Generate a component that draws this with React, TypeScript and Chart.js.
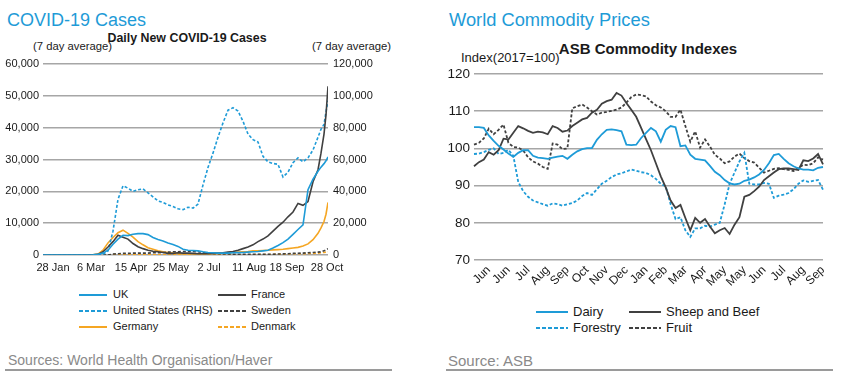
import React, { useEffect, useRef } from 'react';
import { Chart, registerables } from 'chart.js';

Chart.register(...registerables);

const FONT = '"Liberation Sans", Arial, Helvetica, sans-serif';
const BLUE = '#1e9bd7';
const DARK = '#404040';
const ORANGE = '#f5a623';
const GRID = '#a6a6a6';
const TEXT = '#1a1a1a';

// ---------- Left chart: Daily New COVID-19 Cases (7 day average) ----------
// x = days after 28 Jan
const covidDays = [
  -10, -5, 0, 5, 10, 15, 20, 25, 30, 35,
  40, 45, 50, 55, 60, 65, 70, 75, 80, 85,
  90, 95, 100, 105, 110, 115, 120, 125, 130, 135,
  140, 145, 150, 155, 160, 165, 170, 175, 180, 185,
  190, 195, 200, 205, 210, 215, 220, 225, 230, 235,
  240, 245, 250, 255, 260, 265, 268, 271, 273, 275,
];
const covidTickDays = [0, 38, 78, 118, 156, 196, 234, 274];
const covidTickLabels = ['28 Jan', '6 Mar', '15 Apr', '25 May', '2 Jul', '11 Aug', '18 Sep', '28 Oct'];

// thousands of cases
const ukK = [
  0, 0, 0, 0, 0, 0, 0, 0, 0, 0,
  0.05, 0.2, 0.6, 1.5, 3.4, 5.0, 6.2, 6.1, 6.5, 6.7,
  6.7, 6.4, 5.5, 4.9, 4.4, 3.8, 3.3, 2.7, 1.8, 1.5,
  1.4, 1.3, 1.0, 0.8, 0.7, 0.6, 0.6, 0.6, 0.7, 0.75,
  0.8, 0.9, 1.0, 1.1, 1.3, 1.5, 2.2, 3.0, 3.9, 5.0,
  6.5, 8.0, 9.5, 20.5, 23.8, 26.3, 27.6, 28.7, 29.6, 30.8,
];
const franceK = [
  0, 0, 0, 0, 0, 0, 0, 0, 0, 0,
  0.05, 0.2, 1.0, 2.5, 4.2, 6.2, 5.6, 5.0, 3.6, 2.6,
  2.0, 1.5, 1.2, 1.0, 0.8, 0.5, 0.5, 0.7, 0.6, 0.6,
  0.5, 0.4, 0.4, 0.4, 0.5, 0.6, 0.7, 0.9, 1.1, 1.5,
  2.0, 2.5, 3.2, 4.2, 5.0, 6.0, 7.5, 9.0, 10.3, 12.0,
  13.5, 16.2, 15.6, 16.8, 23.0, 26.8, 32.0, 38.0, 44.0, 53.0,
];
const usK = [
  0, 0, 0, 0, 0, 0, 0, 0, 0, 0,
  0, 0, 0.5, 2.5, 15, 35, 43.5, 42, 40, 41,
  41.5, 39, 36.5, 34, 33, 31.5, 30.5, 29, 28.5, 30,
  29.5, 32, 44, 55, 64, 74, 83, 91, 92.5, 90.5,
  84, 76, 72.5, 71, 62, 58.5, 57.5, 57, 49, 52,
  58, 61, 58.5, 61, 66, 74, 79, 82, 90, 97,
];
const swedenK = [
  0, 0, 0, 0, 0, 0, 0, 0, 0, 0,
  0, 0, 0, 0, 0.3, 0.4, 0.5, 0.5, 0.6, 0.6,
  0.6, 0.6, 0.7, 0.7, 0.8, 0.9, 1.0, 1.0, 1.1, 1.1,
  1.1, 1.0, 0.8, 0.6, 0.5, 0.4, 0.3, 0.3, 0.25, 0.25,
  0.25, 0.25, 0.25, 0.2, 0.2, 0.25, 0.25, 0.3, 0.35, 0.4,
  0.5, 0.55, 0.6, 0.7, 0.8, 0.9, 1.0, 1.3, 1.6, 2.0,
];
const germanyK = [
  0, 0, 0, 0, 0, 0, 0, 0, 0, 0,
  0.05, 0.3, 1.5, 3.8, 5.5, 7.0, 7.8, 6.8, 5.6, 4.2,
  3.2, 2.3, 1.8, 1.3, 1.0, 0.8, 0.6, 0.5, 0.4, 0.4,
  0.4, 0.4, 0.4, 0.5, 0.5, 0.5, 0.6, 0.7, 0.8, 0.9,
  1.0, 1.1, 1.3, 1.3, 1.4, 1.5, 1.6, 1.7, 1.8, 2.0,
  2.2, 2.4, 2.8, 3.5, 4.8, 6.8, 8.5, 10.5, 12.8, 16.5,
];
const denmarkK = [
  0, 0, 0, 0, 0, 0, 0, 0, 0, 0,
  0, 0, 0, 0, 0.15, 0.2, 0.25, 0.25, 0.2, 0.2,
  0.15, 0.12, 0.1, 0.08, 0.06, 0.05, 0.05, 0.04, 0.04, 0.04,
  0.04, 0.04, 0.04, 0.05, 0.05, 0.05, 0.06, 0.07, 0.08, 0.1,
  0.1, 0.1, 0.1, 0.12, 0.13, 0.15, 0.2, 0.25, 0.3, 0.35,
  0.4, 0.4, 0.4, 0.45, 0.5, 0.6, 0.7, 0.8, 0.9, 1.0,
];

// ---------- Right chart: ASB Commodity Indexes (weekly, 2017=100) ----------
const monthLabels = ['Jun', 'Jun', 'Jul', 'Aug', 'Sep', 'Oct', 'Nov', 'Dec', 'Jan', 'Feb', 'Mar', 'Apr', 'May', 'May', 'Jun', 'Jul', 'Aug', 'Sep'];

const dairy = [
  105.7, 105.7, 105.5, 103.5, 102, 100.7, 99.7, 98.6, 97.7, 98.8,
  99.5, 99.5, 98, 97.5, 97.4, 97.2, 97.5, 97.8, 98, 97.2,
  98.3, 99.2, 99.8, 100.1, 100.1, 102.3, 103.8, 105, 105.1, 104.9,
  104.6, 101, 100.9, 101, 102.8, 104.2, 105.5, 104.6, 101.8, 105,
  106, 105.7, 100.6, 100.8, 98.3, 97.2, 97, 96.8, 95.3, 93.7,
  92.8, 91.5, 90.6, 90.3, 90.5, 91.3, 91.6, 92.2, 93, 94.2,
  96, 98.2, 98.5, 97.2, 96, 95.2, 94.6, 94.3, 94.3, 94.1,
  94.8, 95,
];
const sheepBeef = [
  95.2, 96.3, 97, 99, 98.3, 99.5, 102.6, 102.4, 104.2, 106,
  105.4, 104.7, 104.2, 104.5, 104.3, 103.8, 106, 105.5, 104.5, 104.8,
  106, 106.9, 107.8, 108.2, 109.6, 110.4, 112, 112.7, 113.1, 114.9,
  114.2, 112.2, 110.4, 108.5, 105.5, 102.5, 99.5, 96, 92.5, 89.5,
  86, 84, 84.8, 81.3, 78, 81.3, 80, 81, 79, 77.2,
  78, 78.6, 77, 79.5, 81.5, 87, 87.5, 88.5, 89.7, 91.5,
  92.5, 93.5, 94.4, 94.6, 94.6, 94.4, 94.2, 96.8, 96.6, 97.3,
  98.5, 95.7,
];
const forestry = [
  98.5, 98.6, 99, 99.6, 100, 98.5, 98.8, 99.6, 98, 91,
  88.5, 87, 86, 85.5, 85, 84.6, 85.2, 85, 84.6, 85,
  85.3, 86, 87.2, 88, 87.5, 89, 90.5, 91.3, 92.3, 93,
  93.3, 93.8, 94.3, 94, 93.6, 93.4, 92.8, 91.8, 90.5, 89.8,
  85, 81, 81.5, 78, 76.2, 78.5, 78.5, 79.2, 79, 79.5,
  80, 85, 90.5, 93.5, 96.5, 98.8, 90.5, 90.3, 90.3, 90.7,
  90.5, 86.7, 87.3, 87.6, 88, 89, 90.5, 91.4, 91, 91.3,
  91.5, 88.9,
];
const fruit = [
  101, 101.5, 102.7, 105.3, 103.8, 105, 106.4, 101.5, 100.4, 100.2,
  99.5, 97.6, 96.5, 95.9, 95, 94.5, 101.3, 101, 99.8, 100,
  110.8, 111.3, 111.8, 111, 110, 109.1, 109.6, 109.8, 110.1, 110.4,
  111, 112.3, 113.8, 114.5, 114.3, 114, 112.6, 111.6, 111, 110,
  108.5, 108.5, 110.4, 106, 101.8, 104.6, 100.2, 102.4, 100.5, 98.3,
  97.3, 96, 96.5, 97.8, 98.6, 97.4, 96.6, 96.2, 94.8, 93.5,
  94, 94.5, 94.7, 94.4, 94.2, 93.9, 94.8, 95.6, 95.5, 96,
  97.6, 97,
];

const DASH = [3, 2];

function pts(vals: number[]) {
  return covidDays.map((d, i) => ({ x: d, y: vals[i] * 1000 }));
}
function fmtThousands(v: any) {
  return Number(v).toLocaleString('en-US');
}

function LegendItem(props: { x: number; y: number; w: number; textX: number; color: string; dashed?: boolean; label: string; size: number }) {
  const { x, y, w, textX, color, dashed, label, size } = props;
  return (
    <>
      <svg style={{ position: 'absolute', left: x, top: y - 2 }} width={w} height={4}>
        <line x1={0} y1={2} x2={w} y2={2} stroke={color} strokeWidth={2} strokeDasharray={dashed ? '4 2' : undefined} />
      </svg>
      <div style={{ position: 'absolute', left: textX, top: y - size / 2 - 0.5, fontSize: size, lineHeight: size + 'px', whiteSpace: 'nowrap', color: TEXT }}>
        {label}
      </div>
    </>
  );
}

function Txt(props: { x: number; y: number; size: number; children: any; bold?: boolean; color?: string; width?: number; center?: boolean }) {
  const { x, y, size, children, bold, color, width, center } = props;
  return (
    <div
      style={{
        position: 'absolute',
        left: x,
        top: y - size / 2,
        fontSize: size,
        lineHeight: size + 'px',
        fontWeight: bold ? 'bold' : 'normal',
        color: color || TEXT,
        whiteSpace: 'nowrap',
        width: width,
        textAlign: center ? 'center' : 'left',
      }}
    >
      {children}
    </div>
  );
}

export default function App() {
  const leftRef = useRef<HTMLCanvasElement | null>(null);
  const rightRef = useRef<HTMLCanvasElement | null>(null);

  useEffect(() => {
    Chart.defaults.font.family = FONT;
    const tickFont = { family: FONT, size: 11 };

    const left = new Chart(leftRef.current as HTMLCanvasElement, {
      type: 'line',
      data: {
        datasets: [
          { label: 'UK', data: pts(ukK), borderColor: BLUE, borderWidth: 1.6, yAxisID: 'y' },
          { label: 'France', data: pts(franceK), borderColor: DARK, borderWidth: 1.6, yAxisID: 'y' },
          { label: 'United States (RHS)', data: pts(usK), borderColor: BLUE, borderWidth: 1.6, borderDash: DASH, yAxisID: 'y1' },
          { label: 'Sweden', data: pts(swedenK), borderColor: DARK, borderWidth: 1.6, borderDash: DASH, yAxisID: 'y' },
          { label: 'Germany', data: pts(germanyK), borderColor: ORANGE, borderWidth: 1.6, yAxisID: 'y' },
          { label: 'Denmark', data: pts(denmarkK), borderColor: ORANGE, borderWidth: 1.6, borderDash: DASH, yAxisID: 'y' },
        ],
      },
      options: {
        responsive: false,
        animation: false,
        devicePixelRatio: 1,
        layout: { padding: { top: 14, left: 0, right: 0, bottom: 0 } },
        elements: { point: { radius: 0 }, line: { tension: 0 } },
        plugins: { legend: { display: false }, tooltip: { enabled: false } },
        scales: {
          x: {
            type: 'linear',
            min: -10,
            max: 275,
            grid: { display: false, drawTicks: false },
            border: { display: false },
            afterBuildTicks: (s: any) => {
              s.ticks = covidTickDays.map((v) => ({ value: v }));
            },
            afterFit: (s: any) => {
              s.height = 20;
            },
            ticks: {
              autoSkip: false,
              maxRotation: 0,
              minRotation: 0,
              padding: 6,
              color: TEXT,
              font: tickFont,
              callback: (_v: any, i: number) => covidTickLabels[i],
            },
          },
          y: {
            position: 'left',
            min: 0,
            max: 60000,
            grid: { color: GRID, lineWidth: 1.5, drawTicks: false },
            border: { display: false },
            afterFit: (s: any) => {
              s.width = 43;
            },
            ticks: { stepSize: 10000, padding: 4, color: TEXT, font: tickFont, callback: fmtThousands },
          },
          y1: {
            position: 'right',
            min: 0,
            max: 120000,
            grid: { display: false, drawTicks: false },
            border: { display: false },
            afterFit: (s: any) => {
              s.width = 72;
            },
            ticks: { stepSize: 20000, padding: 5, color: TEXT, font: tickFont, callback: fmtThousands },
          },
        },
      } as any,
    });

    const weekLabels = dairy.map((_v, i) => (i % 4 === 3 ? monthLabels[(i - 3) / 4] : ''));

    const right = new Chart(rightRef.current as HTMLCanvasElement, {
      type: 'line',
      data: {
        labels: weekLabels,
        datasets: [
          { label: 'Dairy', data: dairy, borderColor: BLUE, borderWidth: 1.8 },
          { label: 'Sheep and Beef', data: sheepBeef, borderColor: DARK, borderWidth: 1.8 },
          { label: 'Forestry', data: forestry, borderColor: BLUE, borderWidth: 1.8, borderDash: DASH },
          { label: 'Fruit', data: fruit, borderColor: DARK, borderWidth: 1.8, borderDash: DASH },
        ],
      },
      options: {
        responsive: false,
        animation: false,
        devicePixelRatio: 1,
        layout: { padding: { top: 14, left: 0, right: 18, bottom: 0 } },
        elements: { point: { radius: 0 }, line: { tension: 0 } },
        plugins: { legend: { display: false }, tooltip: { enabled: false } },
        scales: {
          x: {
            type: 'category',
            offset: false,
            grid: { display: false, drawTicks: false },
            border: { display: false },
            afterFit: (s: any) => {
              s.height = 35;
            },
            ticks: {
              autoSkip: false,
              minRotation: 45,
              maxRotation: 45,
              padding: 3,
              color: TEXT,
              font: { family: FONT, size: 12 },
            },
          },
          y: {
            min: 70,
            max: 120,
            grid: { color: GRID, lineWidth: 1.5, drawTicks: false },
            border: { display: false },
            afterFit: (s: any) => {
              s.width = 44;
            },
            ticks: { stepSize: 10, padding: 4, color: TEXT, font: { family: FONT, size: 13.5 } },
          },
        },
      } as any,
    });

    return () => {
      left.destroy();
      right.destroy();
    };
  }, []);

  return (
    <div style={{ position: 'absolute', left: 0, top: 0, width: 841, height: 380, background: '#ffffff', fontFamily: FONT, overflow: 'hidden' }}>
      {/* Left panel */}
      <Txt x={7} y={19.5} size={18} color={BLUE}>COVID-19 Cases</Txt>
      <Txt x={87} y={38} size={12.4} bold width={200} center>Daily New COVID-19 Cases</Txt>
      <Txt x={33} y={47} size={11.3}>(7 day average)</Txt>
      <Txt x={312} y={47} size={11.3}>(7 day average)</Txt>
      <canvas ref={leftRef} width={400} height={225} style={{ position: 'absolute', left: 0, top: 50 }} />

      <LegendItem x={79} y={295} w={28} textX={113} color={BLUE} label="UK" size={11} />
      <LegendItem x={218} y={295} w={28} textX={251} color={DARK} label="France" size={11} />
      <LegendItem x={79} y={311} w={28} textX={113} color={BLUE} dashed label="United States (RHS)" size={11} />
      <LegendItem x={218} y={311} w={28} textX={251} color={DARK} dashed label="Sweden" size={11} />
      <LegendItem x={79} y={327} w={28} textX={113} color={ORANGE} label="Germany" size={11} />
      <LegendItem x={218} y={327} w={28} textX={251} color={ORANGE} dashed label="Denmark" size={11} />

      <Txt x={8} y={360} size={14} color="#8a8a8a">Sources: World Health Organisation/Haver</Txt>
      <div style={{ position: 'absolute', left: 5, top: 369, width: 387, height: 2, background: '#9a9a9a' }} />

      {/* Right panel */}
      <Txt x={449} y={19.7} size={18.3} color={BLUE}>World Commodity Prices</Txt>
      <Txt x={548} y={48.5} size={15} bold width={200} center>ASB Commodity Indexes</Txt>
      <Txt x={461} y={57} size={13}>Index(2017=100)</Txt>
      <canvas ref={rightRef} width={411} height={235} style={{ position: 'absolute', left: 430, top: 60 }} />

      <LegendItem x={536} y={311.5} w={32} textX={573} color={BLUE} label="Dairy" size={13} />
      <LegendItem x={629} y={311.5} w={32} textX={666} color={DARK} label="Sheep and Beef" size={13} />
      <LegendItem x={536} y={328} w={32} textX={573} color={BLUE} dashed label="Forestry" size={13} />
      <LegendItem x={629} y={328} w={32} textX={666} color={DARK} dashed label="Fruit" size={13} />

      <Txt x={448} y={360} size={15} color="#8a8a8a">Source: ASB</Txt>
      <div style={{ position: 'absolute', left: 446, top: 369, width: 387, height: 2, background: '#9a9a9a' }} />
    </div>
  );
}
